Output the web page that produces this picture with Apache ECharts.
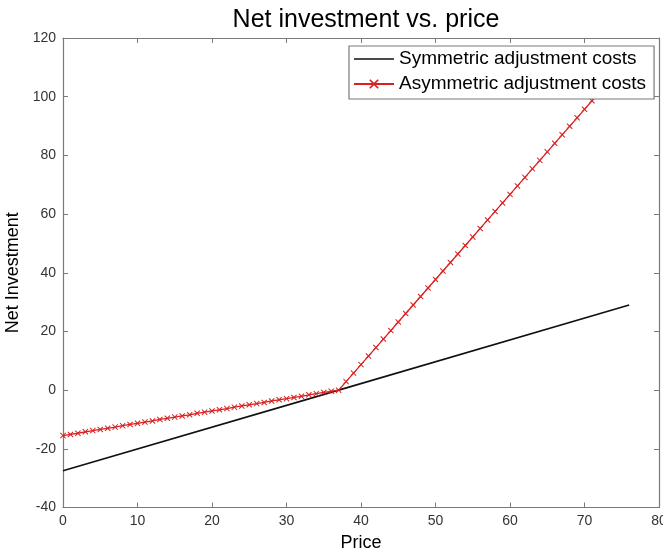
<!DOCTYPE html>
<html>
<head>
<meta charset="utf-8">
<script src="https://cdn.jsdelivr.net/npm/echarts@6/dist/echarts.min.js"></script>
<style>
  html, body { margin: 0; padding: 0; background: #fff; }
  #chart { width: 663px; height: 550px; }
</style>
</head>
<body>
<div id="chart"></div>
<script>
// Symmetric adjustment costs: straight line through the break-even price
const symmetricPrice = [0, 37, 76];
const symmetricInvestment = [-27.5, 0.0, 29.0];

// Asymmetric adjustment costs, sampled at every unit of price
const asymmetricPrice = [
  0, 1, 2, 3, 4, 5, 6, 7, 8, 9, 10, 11, 12, 13, 14, 15, 16, 17, 18, 19,
  20, 21, 22, 23, 24, 25, 26, 27, 28, 29, 30, 31, 32, 33, 34, 35, 36, 37, 38, 39,
  40, 41, 42, 43, 44, 45, 46, 47, 48, 49, 50, 51, 52, 53, 54, 55, 56, 57, 58, 59,
  60, 61, 62, 63, 64, 65, 66, 67, 68, 69, 70, 71, 72, 73, 74, 75, 76
];
const asymmetricInvestment = [
  -15.5, -15.1, -14.7, -14.2, -13.8, -13.4, -13.0, -12.6, -12.1, -11.7,
  -11.3, -10.9, -10.5, -10.0, -9.6, -9.2, -8.8, -8.4, -7.9, -7.5,
  -7.1, -6.7, -6.3, -5.8, -5.4, -5.0, -4.6, -4.2, -3.7, -3.3,
  -2.9, -2.5, -2.1, -1.6, -1.2, -0.8, -0.4, 0.0, 2.9, 5.8,
  8.7, 11.6, 14.5, 17.4, 20.3, 23.2, 26.1, 29.0, 31.9, 34.8,
  37.7, 40.6, 43.5, 46.4, 49.3, 52.2, 55.1, 58.0, 60.9, 63.8,
  66.7, 69.6, 72.5, 75.4, 78.3, 81.2, 84.1, 87.0, 89.9, 92.8,
  95.7, 98.6, 101.5, 104.4, 107.3, 110.2, 113.1
];

const seriesNames = ['Symmetric adjustment costs', 'Asymmetric adjustment costs'];
const xTicks = { min: 0, max: 80, interval: 10 };
const yTicks = { min: -40, max: 120, interval: 20 };

const FONT = '"Liberation Sans", Arial, Helvetica, sans-serif';
const FRAME = '#7a7a7a';
const CROSS = 'path://M0,1.2L1.2,0L5,3.8L8.8,0L10,1.2L6.2,5L10,8.8L8.8,10L5,6.2L1.2,10L0,8.8L3.8,5Z';
// plain line key: a thin bar with tiny corner points that fix the icon's box
const LINE_KEY = 'path://M0,0L0.01,0L0,0.01ZM40,12L39.99,12L40,11.99ZM0,5.3L40,5.3L40,6.7L0,6.7Z';

const zip = (xs, ys) => xs.map((x, i) => [x, ys[i]]);

const boxAxis = (pos, labels) => ({
  type: 'value',
  position: pos,
  axisLine: { show: true, onZero: false, lineStyle: { color: FRAME, width: 1.2 } },
  axisTick: { show: true, inside: true, length: 5, lineStyle: { color: FRAME, width: 1 } },
  axisLabel: { show: labels, color: '#333', fontSize: 14, fontFamily: FONT, margin: 7 },
  splitLine: { show: false }
});

const chart = echarts.init(document.getElementById('chart'), null, { renderer: 'canvas' });

chart.setOption({
  animation: false,
  backgroundColor: '#fff',
  title: {
    text: 'Net investment vs. price',
    left: 361,
    textAlign: 'center',
    top: 3,
    textStyle: { fontFamily: FONT, fontSize: 25, fontWeight: 'normal', color: '#000' }
  },
  grid: { left: 63, right: 4, top: 38, bottom: 42.5, containLabel: false, outerBoundsMode: 'none' },
  xAxis: [
    Object.assign(boxAxis('bottom', true), xTicks, {
      name: 'Price',
      nameLocation: 'middle',
      nameGap: 27,
      nameTextStyle: { fontFamily: FONT, fontSize: 18, color: '#000' }
    }),
    Object.assign(boxAxis('top', false), xTicks)
  ],
  yAxis: [
    Object.assign(boxAxis('left', true), yTicks, {
      name: 'Net Investment',
      nameLocation: 'middle',
      nameGap: 38,
      nameRotate: 90,
      nameTextStyle: { fontFamily: FONT, fontSize: 18, color: '#000' }
    }),
    Object.assign(boxAxis('right', false), yTicks)
  ],
  legend: {
    orient: 'vertical',
    left: 349,
    top: 46,
    padding: [2, 8, 4, 4],
    itemWidth: 40,
    itemHeight: 12,
    itemGap: 3,
    backgroundColor: '#fff',
    borderColor: FRAME,
    borderWidth: 1.2,
    borderRadius: 0,
    textStyle: { fontFamily: FONT, fontSize: 19, color: '#000', lineHeight: 22 },
    data: [
      { name: seriesNames[0], icon: LINE_KEY },
      { name: seriesNames[1] }
    ]
  },
  series: [
    {
      name: seriesNames[0],
      type: 'line',
      data: zip(symmetricPrice, symmetricInvestment),
      showSymbol: false,
      symbol: 'none',
      lineStyle: { color: '#111', width: 1.6 },
      itemStyle: { color: '#111' }
    },
    {
      name: seriesNames[1],
      type: 'line',
      data: zip(asymmetricPrice, asymmetricInvestment),
      symbol: CROSS,
      symbolSize: 6,
      lineStyle: { color: '#d92020', width: 1.3 },
      itemStyle: { color: '#d92020' }
    }
  ]
});
</script>
</body>
</html>
